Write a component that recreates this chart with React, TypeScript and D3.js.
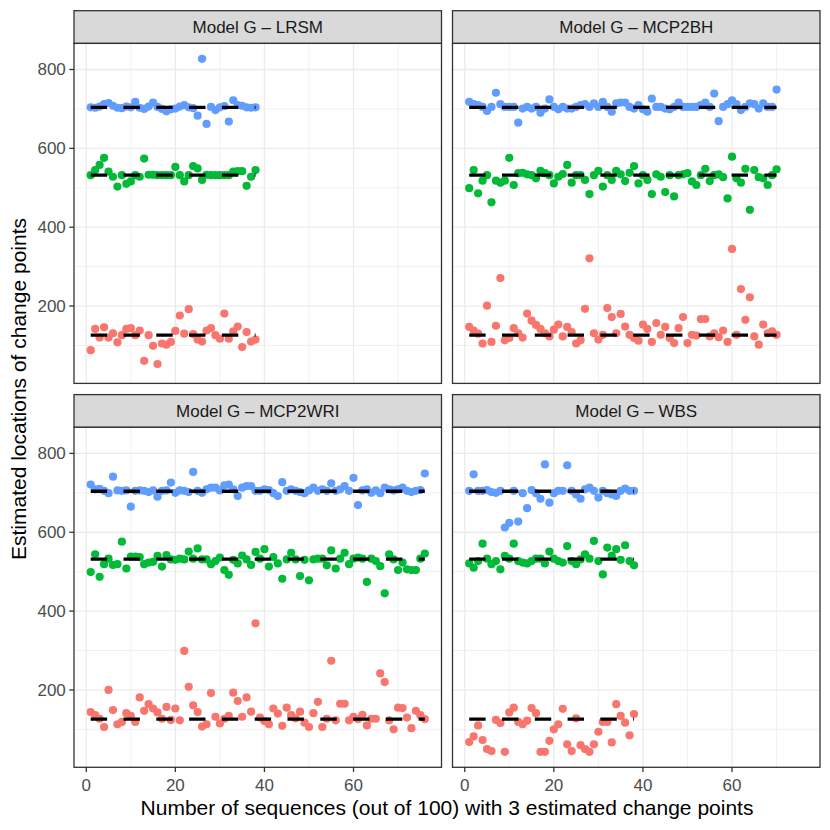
import * as d3 from "d3";

// ggplot default hue palette for the three change points
const GROUP_COLORS = ["#F8766D", "#00BA38", "#619CFF"];
const TRUE_CHANGE_POINTS = [126, 532, 704];
const PANEL_TITLES = [
  "Model G – LRSM",
  "Model G – MCP2BH",
  "Model G – MCP2WRI",
  "Model G – WBS",
];
const X_TICKS = [0, 20, 40, 60];
const X_MINOR = [10, 30, 50, 70];
const Y_TICKS = [200, 400, 600, 800];
const Y_MINOR = [100, 300, 500, 700];

// estimated locations, one value per sequence (x = 1..n)
const lrsmFirst = [88, 142, 120, 146, 120, 131, 108, 126, 142, 144, 126, 138, 61, 126, 99, 53, 105, 102, 109, 137, 176, 130, 192, 129, 115, 110, 138, 144, 126, 117, 181, 117, 136, 148, 96, 134, 110, 115];
const lrsmSecond = [532, 545, 558, 576, 541, 528, 503, 532, 510, 516, 532, 528, 574, 533, 533, 532, 532, 532, 532, 553, 532, 516, 532, 555, 549, 520, 533, 532, 532, 532, 532, 532, 541, 542, 542, 505, 528, 545];
const lrsmThird = [704, 703, 706, 712, 715, 708, 703, 702, 706, 704, 718, 703, 700, 706, 716, 705, 700, 694, 699, 701, 706, 710, 704, 702, 683, 827, 662, 705, 697, 704, 707, 668, 722, 710, 708, 704, 703, 704];

const mcp2bhFirst = [147, 138, 130, 105, 201, 109, 150, 271, 113, 119, 144, 131, 120, 181, 163, 152, 142, 131, 123, 140, 153, 123, 147, 134, 105, 113, 193, 321, 131, 115, 127, 195, 172, 131, 180, 148, 127, 119, 112, 153, 142, 109, 157, 127, 147, 119, 106, 144, 172, 106, 127, 125, 167, 167, 123, 131, 121, 138, 109, 345, 127, 243, 165, 222, 123, 102, 153, 131, 136, 127];
const mcp2bhSecond = [499, 545, 486, 518, 532, 463, 518, 513, 518, 576, 507, 537, 538, 534, 532, 524, 543, 537, 532, 511, 528, 535, 558, 513, 532, 532, 520, 484, 532, 543, 503, 532, 520, 543, 534, 517, 538, 555, 511, 532, 520, 484, 534, 528, 489, 532, 478, 532, 534, 537, 516, 507, 532, 548, 517, 532, 534, 527, 473, 579, 524, 513, 548, 444, 545, 527, 524, 507, 532, 547];
const mcp2bhThird = [718, 712, 710, 705, 695, 705, 741, 712, 705, 705, 705, 665, 701, 705, 701, 705, 690, 701, 724, 705, 699, 705, 701, 701, 705, 710, 712, 705, 714, 705, 718, 705, 693, 714, 716, 716, 705, 701, 710, 699, 693, 726, 705, 705, 701, 699, 705, 716, 705, 705, 705, 705, 710, 716, 705, 739, 669, 705, 712, 722, 712, 697, 705, 714, 712, 701, 714, 705, 705, 749];

const mcp2wriFirst = [144, 136, 127, 106, 200, 149, 113, 119, 141, 134, 119, 181, 147, 164, 153, 143, 127, 157, 124, 153, 123, 299, 208, 161, 144, 107, 113, 192, 132, 115, 127, 134, 193, 172, 132, 181, 145, 369, 130, 121, 113, 153, 140, 109, 155, 136, 128, 145, 117, 106, 141, 170, 106, 127, 274, 123, 165, 165, 123, 132, 126, 137, 110, 127, 127, 242, 220, 123, 100, 155, 154, 130, 103, 147, 136, 126];
const mcp2wriSecond = [499, 544, 487, 519, 533, 517, 519, 576, 508, 538, 538, 537, 519, 523, 525, 540, 513, 542, 531, 530, 533, 531, 551, 533, 559, 531, 531, 519, 527, 536, 504, 492, 530, 521, 541, 531, 517, 550, 533, 557, 513, 537, 521, 482, 531, 548, 531, 489, 530, 478, 531, 533, 533, 516, 554, 508, 533, 548, 519, 533, 536, 533, 474, 533, 527, 514, 445, 544, 531, 504, 523, 506, 504, 504, 533, 546];
const mcp2wriThird = [721, 709, 710, 705, 699, 741, 706, 705, 706, 665, 705, 706, 705, 702, 706, 690, 705, 706, 726, 700, 706, 705, 702, 753, 705, 700, 709, 713, 713, 706, 719, 721, 709, 692, 713, 717, 717, 705, 705, 709, 707, 699, 692, 727, 705, 709, 705, 702, 699, 706, 713, 705, 709, 705, 724, 705, 709, 717, 705, 738, 669, 706, 709, 700, 706, 699, 713, 709, 706, 709, 713, 705, 702, 705, 707, 749];

const wbsFirst = [68, 82, 110, 73, 50, 45, 124, 116, 43, 143, 155, 119, 113, 122, 154, 141, 43, 43, 71, 100, 113, 152, 62, 45, 128, 60, 50, 43, 62, 94, 119, 119, 67, 164, 134, 117, 85, 139];
const wbsSecond = [521, 510, 527, 571, 533, 519, 527, 506, 540, 533, 571, 527, 523, 521, 527, 533, 533, 521, 551, 533, 527, 523, 565, 527, 519, 531, 544, 533, 578, 527, 493, 561, 540, 557, 530, 567, 527, 516];
const wbsThird = [705, 747, 705, 705, 707, 702, 700, 705, 612, 624, 705, 627, 699, 661, 707, 699, 685, 772, 675, 699, 705, 705, 770, 705, 696, 685, 709, 713, 705, 688, 705, 699, 696, 692, 705, 711, 705, 705];

const panelSeries = [
  [lrsmFirst, lrsmSecond, lrsmThird],
  [mcp2bhFirst, mcp2bhSecond, mcp2bhThird],
  [mcp2wriFirst, mcp2wriSecond, mcp2wriThird],
  [wbsFirst, wbsSecond, wbsThird],
];

// layout (pixels)
const COL_LEFT = [74, 452.5];
const PANEL_W = 367.5;
const STRIP_TOP = [10.7, 394.6];
const STRIP_H = 32.7;
const PANEL_H = 340;
const TICK = 4.7;
const FONT = "'Liberation Sans', Arial, Helvetica, sans-serif";

// ggplot style 5% expansion of the data range
const expand = ([lo, hi]: [number, number]): [number, number] => {
  const pad = (hi - lo) * 0.05;
  return [lo - pad, hi + pad];
};

const allValues = panelSeries.flat(2);
const maxN = d3.max(panelSeries, (s) => s[0].length)!;
const xDomain = expand([1, maxN]);
const yDomain = expand(d3.extent(allValues) as [number, number]);

const Panel = ({ index }: { index: number }) => {
  const col = index % 2;
  const row = Math.floor(index / 2);
  const left = COL_LEFT[col];
  const top = STRIP_TOP[row] + STRIP_H;
  const x = d3.scaleLinear().domain(xDomain).range([left, left + PANEL_W]);
  const y = d3.scaleLinear().domain(yDomain).range([top + PANEL_H, top]);
  const series = panelSeries[index];
  const n = series[0].length;
  const segment = d3
    .line<number>()
    .x((d) => x(d))
    .y(0);

  return (
    <g>
      {/* strip */}
      <rect
        x={left}
        y={STRIP_TOP[row]}
        width={PANEL_W}
        height={STRIP_H}
        fill="#D9D9D9"
        stroke="#333333"
        strokeWidth={1.3}
      />
      <text
        x={left + PANEL_W / 2}
        y={STRIP_TOP[row] + STRIP_H / 2 + 6}
        textAnchor="middle"
        fontSize={17}
        fill="#1A1A1A"
      >
        {PANEL_TITLES[index]}
      </text>

      {/* panel background and grid */}
      <rect x={left} y={top} width={PANEL_W} height={PANEL_H} fill="white" />
      {X_MINOR.map((t) => (
        <line key={"xm" + t} x1={x(t)} x2={x(t)} y1={top} y2={top + PANEL_H} stroke="#EBEBEB" strokeWidth={0.7} />
      ))}
      {Y_MINOR.map((t) => (
        <line key={"ym" + t} x1={left} x2={left + PANEL_W} y1={y(t)} y2={y(t)} stroke="#EBEBEB" strokeWidth={0.7} />
      ))}
      {X_TICKS.map((t) => (
        <line key={"xM" + t} x1={x(t)} x2={x(t)} y1={top} y2={top + PANEL_H} stroke="#EBEBEB" strokeWidth={1.3} />
      ))}
      {Y_TICKS.map((t) => (
        <line key={"yM" + t} x1={left} x2={left + PANEL_W} y1={y(t)} y2={y(t)} stroke="#EBEBEB" strokeWidth={1.3} />
      ))}

      {/* points */}
      {series.map((values, g) =>
        values.map((v, i) => (
          <circle key={g + "-" + i} cx={x(i + 1)} cy={y(v)} r={4.1} fill={GROUP_COLORS[g]} />
        ))
      )}

      {/* true change points */}
      {TRUE_CHANGE_POINTS.map((cp) => (
        <path
          key={"cp" + cp}
          d={segment([1, n])!}
          transform={`translate(0, ${y(cp)})`}
          fill="none"
          stroke="black"
          strokeWidth={3.3}
          strokeDasharray="16.4 16.4"
        />
      ))}

      <rect x={left} y={top} width={PANEL_W} height={PANEL_H} fill="none" stroke="#333333" strokeWidth={1.3} />

      {/* y axis on left column */}
      {col === 0 &&
        Y_TICKS.map((t) => (
          <g key={"yt" + t}>
            <line x1={left - TICK} x2={left} y1={y(t)} y2={y(t)} stroke="#333333" strokeWidth={1.3} />
            <text x={left - TICK - 3.5} y={y(t) + 6} textAnchor="end" fontSize={17} fill="#4D4D4D">
              {t}
            </text>
          </g>
        ))}

      {/* x axis on bottom row */}
      {row === 1 &&
        X_TICKS.map((t) => (
          <g key={"xt" + t}>
            <line x1={x(t)} x2={x(t)} y1={top + PANEL_H} y2={top + PANEL_H + TICK} stroke="#333333" strokeWidth={1.3} />
            <text x={x(t)} y={top + PANEL_H + 23.4} textAnchor="middle" fontSize={17} fill="#4D4D4D">
              {t}
            </text>
          </g>
        ))}
    </g>
  );
};

export default function App() {
  const plotTop = STRIP_TOP[0];
  const plotBottom = STRIP_TOP[1] + STRIP_H + PANEL_H;
  return (
    <svg
      width={830}
      height={830}
      style={{ position: "absolute", left: 0, top: 0, background: "white" }}
      fontFamily={FONT}
    >
      <rect width={830} height={830} fill="white" />
      {PANEL_TITLES.map((_, i) => (
        <Panel key={i} index={i} />
      ))}
      <text x={(COL_LEFT[0] + COL_LEFT[1] + PANEL_W) / 2} y={815} textAnchor="middle" fontSize={21} fill="black">
        Number of sequences (out of 100) with 3 estimated change points
      </text>
      <text
        transform={`translate(26, ${(plotTop + plotBottom) / 2}) rotate(-90)`}
        textAnchor="middle"
        fontSize={21}
        fill="black"
      >
        Estimated locations of change points
      </text>
    </svg>
  );
}
